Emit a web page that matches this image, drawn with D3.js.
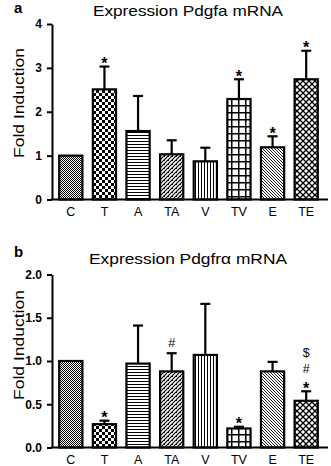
<!DOCTYPE html>
<html>
<head>
<meta charset="utf-8">
<script src="https://cdn.jsdelivr.net/npm/d3@7"></script>
<style>
  body { margin: 0; background: #fff; }
  svg { display: block; font-family: "Liberation Sans", Arial, sans-serif; }
</style>
</head>
<body>
<div id="chart"></div>
<script>
// Data
const groups = ["C", "T", "A", "TA", "V", "TV", "E", "TE"];

const pdgfaMean = [1.0, 2.51, 1.56, 1.03, 0.87, 2.29, 1.19, 2.74];
const pdgfaErr  = [0.0, 0.52, 0.80, 0.32, 0.31, 0.45, 0.25, 0.65];
const pdgfaMarks = ["", "*", "", "", "", "*", "*", "*"];
const pdgfaTicks = [0, 1, 2, 3, 4];

const pdgfraMean = [1.0, 0.27, 0.97, 0.88, 1.07, 0.22, 0.88, 0.54];
const pdgfraErr  = [0.0, 0.04, 0.44, 0.21, 0.59, 0.02, 0.11, 0.11];
const pdgfraMarks = ["", "*", "", "#", "", "*", "", "$\n#\n*"];
const pdgfraTicks = [0, 0.5, 1.0, 1.5, 2.0];

const width = 331, height = 466;

const svg = d3.select("#chart").append("svg")
  .attr("width", width)
  .attr("height", height);

// Fill patterns, one per group
const defs = svg.append("defs");

function pattern(id, size) {
  const p = defs.append("pattern")
    .attr("id", id)
    .attr("patternUnits", "userSpaceOnUse")
    .attr("width", size)
    .attr("height", size);
  p.append("rect").attr("width", size).attr("height", size).attr("fill", "#fff");
  return p;
}

// C: fine checker
let p = pattern("pC", 2);
p.append("rect").attr("width", 1).attr("height", 1).attr("fill", "#000");
p.append("rect").attr("x", 1).attr("y", 1).attr("width", 1).attr("height", 1).attr("fill", "#000");

// T: coarse checker
p = pattern("pT", 6);
p.append("rect").attr("width", 3).attr("height", 3).attr("fill", "#000");
p.append("rect").attr("x", 3).attr("y", 3).attr("width", 3).attr("height", 3).attr("fill", "#000");

// A: horizontal lines
p = pattern("pA", 3);
p.append("rect").attr("width", 3).attr("height", 1).attr("fill", "#000");

// TA: dense dotted diagonals
p = pattern("pTA", 4);
p.append("path").attr("d", "M0,4 L4,0 M-1,1 L1,-1 M3,5 L5,3").attr("stroke", "#000").attr("stroke-width", 1.2);
p.append("rect").attr("x", 0).attr("y", 0).attr("width", 1).attr("height", 1).attr("fill", "#000");

// V: vertical lines
p = pattern("pV", 3);
p.append("rect").attr("width", 1).attr("height", 3).attr("fill", "#000");

// TV: square grid
p = pattern("pTV", 7);
p.append("rect").attr("width", 7).attr("height", 1.5).attr("fill", "#000");
p.append("rect").attr("width", 1.5).attr("height", 7).attr("fill", "#000");

// E: back-slash diagonals
p = pattern("pE", 3);
p.append("path").attr("d", "M0,0 L3,3 M-1,2 L1,4 M2,-1 L4,1").attr("stroke", "#000").attr("stroke-width", 0.9);

// TE: diagonal crosshatch
p = pattern("pTE", 6);
p.append("path").attr("d", "M0,0 L6,6 M6,0 L0,6").attr("stroke", "#000").attr("stroke-width", 1.3);

const fills = ["pC", "pT", "pA", "pTA", "pV", "pTV", "pE", "pTE"];

const x = d3.scaleBand()
  .domain(groups)
  .range([54, 323])
  .paddingInner(0.31)
  .paddingOuter(0.155);

// vertical offset of each mark's baseline from the error cap
const markLift = { "*": 2.5, "#": -6, "$": -6 };

function drawPanel(opts) {
  const { letter, title, titleLen, top, bottom, yMax, ticks, mean, err, marks, letterY, titleY, labelY } = opts;

  const y = d3.scaleLinear().domain([0, yMax]).range([bottom, top]);
  const g = svg.append("g");

  g.append("text")
    .attr("x", 14).attr("y", letterY)
    .style("font-size", "15px").style("font-weight", "bold")
    .text(letter);

  g.append("text")
    .attr("x", 188).attr("y", titleY)
    .attr("text-anchor", "middle")
    .attr("textLength", titleLen)
    .attr("lengthAdjust", "spacingAndGlyphs")
    .style("font-size", "15px")
    .text(title);

  g.append("text")
    .attr("transform", `translate(24,${labelY}) rotate(-90)`)
    .attr("text-anchor", "middle")
    .attr("textLength", 110)
    .attr("lengthAdjust", "spacingAndGlyphs")
    .style("font-size", "15px")
    .text("Fold Induction");

  const data = groups.map((k, i) => ({ k, m: mean[i], e: err[i], mark: marks[i], f: fills[i] }));
  const cx = d => x(d.k) + x.bandwidth() / 2;

  // Error bars (upper only)
  g.selectAll(".eb").data(data.filter(d => d.e > 0)).join("line")
    .attr("x1", cx).attr("x2", cx)
    .attr("y1", d => y(d.m))
    .attr("y2", d => y(d.m + d.e))
    .attr("stroke", "#000").attr("stroke-width", 2.2);

  g.selectAll(".cap").data(data.filter(d => d.e > 0)).join("line")
    .attr("x1", d => cx(d) - 5)
    .attr("x2", d => cx(d) + 5)
    .attr("y1", d => y(d.m + d.e))
    .attr("y2", d => y(d.m + d.e))
    .attr("stroke", "#000").attr("stroke-width", 2.2);

  // Bars
  g.selectAll(".bar").data(data).join("rect")
    .attr("x", d => x(d.k))
    .attr("y", d => y(d.m))
    .attr("width", x.bandwidth())
    .attr("height", d => bottom - y(d.m))
    .attr("fill", d => `url(#${d.f})`)
    .attr("stroke", "#000")
    .attr("stroke-width", 2.2);

  // Significance marks, stacked bottom to top
  data.forEach(d => {
    if (!d.mark) return;
    const lines = d.mark.split("\n").reverse();
    let base = y(d.m + d.e);
    lines.forEach((s, j) => {
      const yy = j === 0 ? base + markLift[s] : base - (lines[j - 1] === "*" ? 21 : 15.5);
      base = yy;
      g.append("text")
        .attr("x", cx(d))
        .attr("y", yy)
        .attr("text-anchor", "middle")
        .attr("fill", "#000")
        .style("font-size", s === "*" ? "16px" : "12.5px")
        .style("font-weight", s === "*" ? "bold" : "normal")
        .text(s);
    });
  });

  // Axes
  const yAxis = d3.axisLeft(y).tickValues(ticks).tickSize(5).tickSizeOuter(0).tickPadding(5)
    .tickFormat(yMax > 2 ? d3.format("d") : d3.format(".1f"));
  const ya = g.append("g").attr("transform", "translate(52,0)").call(yAxis);
  ya.select(".domain").attr("stroke-width", 2);
  ya.selectAll(".tick line").attr("stroke-width", 2);
  ya.selectAll(".tick text")
    .attr("fill", "#000")
    .style("font-size", "12px").style("font-weight", "bold")
    .style("font-family", "Liberation Sans, Arial, sans-serif");

  const xAxis = d3.axisBottom(x).tickSize(0).tickPadding(8);
  const xa = g.append("g").attr("transform", `translate(0,${bottom})`).call(xAxis);
  xa.select(".domain").attr("d", "M51,0H328").attr("stroke-width", 2);
  xa.selectAll(".tick text")
    .attr("fill", "#000")
    .style("font-size", "12.5px")
    .style("font-family", "Liberation Sans, Arial, sans-serif");
}

drawPanel({
  letter: "a", title: "Expression Pdgfa mRNA", titleLen: 190,
  top: 24, bottom: 199.5, yMax: 4, ticks: pdgfaTicks,
  mean: pdgfaMean, err: pdgfaErr, marks: pdgfaMarks,
  letterY: 13, titleY: 16, labelY: 103
});

drawPanel({
  letter: "b", title: "Expression Pdgfrα mRNA", titleLen: 198,
  top: 274.5, bottom: 447.5, yMax: 2, ticks: pdgfraTicks,
  mean: pdgfraMean, err: pdgfraErr, marks: pdgfraMarks,
  letterY: 257, titleY: 264, labelY: 345
});
</script>
</body>
</html>
